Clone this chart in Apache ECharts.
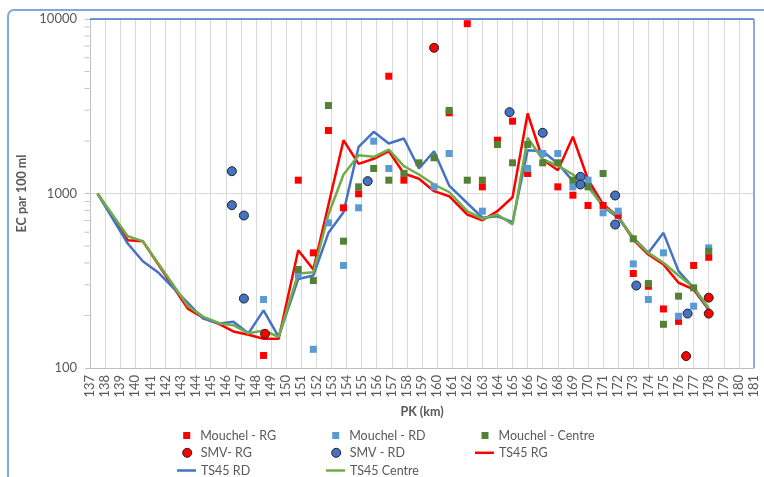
<!DOCTYPE html>
<html><head><meta charset="utf-8">
<script src="https://cdn.jsdelivr.net/npm/echarts@6/dist/echarts.min.js"></script>
<style>html,body{margin:0;padding:0;background:#fff}#c{width:764px;height:477px}</style>
</head><body><div id="c"></div>
<script>
// ---- data (PK km, EC per 100 ml) ----
const pkMin = 137, pkMax = 181;
const yMinorTicks = [200,300,400,500,600,700,800,900,2000,3000,4000,5000,6000,7000,8000,9000];

const ts45RG = [[137.5,1000],[139.5,540],[140.5,533],[143.5,218],[144.5,194],[145.6,178],[146.5,162],[147.5,155],[148.5,147],[149.5,147],
  [150.8,473],[151.8,367],[153.8,2020],[154.8,1479],[155.8,1581],[156.8,1747],[157.8,1302],[158.8,1214],[159.8,1031],[160.8,965],
  [162,758],[163,703],[164,792],[165,952],[166,2874],[167,1566],[168,1360],[169,2114],[170,1203],[171,865],
  [172,738],[173,545],[174,447],[175,392],[176,308],[177,282],[178,216]];
const ts45RD = [[137.5,1000],[139.5,517],[140.5,409],[141.5,354],[144.5,192],[145.6,180],[146.5,184],[147.5,158],[148.5,214],[149.5,151],
  [150.8,324],[151.8,339],[152.8,595],[153.8,781],[154.8,1852],[155.8,2258],[156.8,1934],[157.8,2067],[158.8,1391],[159.8,1747],[160.8,1111],
  [163,726],[164,741],[165,685],[166,1771],[167,1747],[168,1486],[169,1177],[170,1126],[171,839],
  [172,726],[173,557],[174,457],[175,595],[176,359],[177,288],[178,216]];
const ts45Centre = [[137.5,1000],[139.5,569],[140.5,533],[143.5,226],[144.5,197],[145.6,180],[146.5,176],[147.5,158],[148.5,164],[149.5,151],
  [150.8,348],[151.8,354],[152.8,758],[153.8,1285],[154.8,1658],[155.8,1623],[156.8,1787],[157.8,1434],[158.8,1285],[159.8,1126],[160.8,1020],
  [162,792],[163,716],[164,758],[165,664],[166,2085],[167,1566],[168,1447],[169,1285],[170,1092],[171,846],
  [172,741],[173,552],[174,457],[175,401],[176,339],[177,290],[178,221]];

const mouchelRG = [[148.5,118],[150.8,1192],[151.8,457],[152.8,2296],[153.8,828],[154.8,996],[156.8,4700],[157.8,1192],[160.8,2900],
  [162,9400],[163,1092],[164,2020],[165,2597],[166,1302],[168,1092],[169,978],[170,854],[171,854],[172,750],
  [173,348],[174,294],[175,218],[176,185],[177,387],[178,431]];
const mouchelRD = [[148.5,247],[150.8,343],[151.8,128],[152.8,679],[153.8,387],[154.8,828],[155.8,1994],[156.8,1391],[159.8,1092],[160.8,1695],
  [163,792],[166,1391],[167,1695],[168,1695],[169,1092],[170,1192],[171,775],[172,792],[173,395],[174,247],
  [175,457],[176,198],[177,226],[178,488]];
const mouchelCentre = [[150.8,367],[151.8,317],[152.8,3194],[153.8,533],[154.8,1092],[155.8,1391],[156.8,1192],[157.8,1302],[158.8,1499],[159.8,1602],[160.8,2990],
  [162,1192],[163,1192],[164,1909],[165,1499],[166,1909],[167,1499],[168,1499],[169,1192],[170,1092],[171,1302],
  [173,550],[174,305],[175,178],[176,258],[177,288],[178,467]];
const smvRG = [[148.6,157],[159.8,6839],[176.5,117],[178,253],[178,205]];
const smvRD = [[146.4,1342],[146.4,857],[147.2,748],[147.2,250],[155.4,1177],[164.8,2924],[167,2228],[169.5,1246],[169.5,1126],
  [171.8,974],[171.8,664],[173.2,297],[176.6,205]];

const FONT = 'Lato';
const TXT = '#595959';

const chart = echarts.init(document.getElementById('c'), null, {renderer:'canvas'});
const lineSeries = (name, data, color, z) => ({
  name, type:'line', data, symbol:'none', showSymbol:false, z,
  lineStyle:{color, width:2.5}, itemStyle:{color}, animation:false
});
const sqSeries = (name, data, color, z) => ({
  name, type:'scatter', data, symbol:'rect', symbolSize:7, z,
  itemStyle:{color, opacity:1}, animation:false
});
const circSeries = (name, data, color, z) => ({
  name, type:'scatter', data, symbol:'circle', symbolSize:9, z,
  itemStyle:{color, borderColor:'#1f1f1f', borderWidth:1, opacity:1}, animation:false
});

const rowY = [436, 453.3, 471];
const LEG_FS = 12.5;
function legendItem(name, kind, left, cy, color) {
  const base = {selectedMode:false, padding:0, orient:'horizontal', top:cy-7,
    textStyle:{fontFamily:FONT, fontSize:LEG_FS, color:TXT}};
  if (kind === 'sq') return Object.assign(base, {left, itemWidth:7, itemHeight:7,
    data:[{name, icon:'rect', itemStyle:{color, borderWidth:0}}], textStyle:Object.assign(base.textStyle,{padding:[0,0,0,5]})});
  if (kind === 'ci') return Object.assign(base, {left, itemWidth:9, itemHeight:9,
    data:[{name, icon:'circle', itemStyle:{color, borderColor:'#1f1f1f', borderWidth:1}}], textStyle:Object.assign(base.textStyle,{padding:[0,0,0,4]})});
  return Object.assign(base, {left, itemWidth:19, itemHeight:2.5,
    data:[{name, icon:'rect', itemStyle:{color, borderWidth:0}}]});
}

chart.setOption({
  animation:false,
  graphic:[{type:'rect', shape:{x:8, y:10, width:790, height:500, r:6}, style:{fill:'none', stroke:'#7FA9DA', lineWidth:2}, z:-10}],
  grid:{left:90, top:19, width:664, height:349},
  xAxis:{
    type:'value', min:pkMin, max:pkMax, interval:1,
    name:'PK (km)', nameLocation:'middle', nameGap:36,
    nameTextStyle:{fontFamily:FONT, fontSize:12.5, fontWeight:'bold', color:TXT},
    axisLine:{show:true, lineStyle:{color:'#bfbfbf', width:1}},
    axisTick:{show:false},
    axisLabel:{rotate:90, margin:7, fontFamily:FONT, fontSize:13, color:TXT},
    splitLine:{show:true, lineStyle:{color:'#d9d9d9', width:1}}
  },
  yAxis:{
    type:'log', logBase:10, min:100, max:10000,
    name:'EC par 100 ml', nameLocation:'middle', nameGap:41, nameRotate:90,
    nameTextStyle:{fontFamily:FONT, fontSize:12.5, fontWeight:'bold', color:TXT},
    axisLine:{show:true, lineStyle:{color:'#bfbfbf', width:1}},
    axisTick:{show:true, length:5, lineStyle:{color:'#bfbfbf'}},
    axisLabel:{margin:13, fontFamily:FONT, fontSize:13, color:TXT, formatter:v=>String(Math.round(v))},
    splitLine:{show:true, lineStyle:{color:'#d9d9d9', width:1}}
  },
  legend:[
    legendItem('Mouchel - RG', 'sq', 183.2, rowY[0], '#FF0000'),
    legendItem('Mouchel - RD', 'sq', 332.2, rowY[0], '#5B9BD5'),
    legendItem('Mouchel - Centre', 'sq', 481.5, rowY[0], '#548235'),
    legendItem('SMV- RG', 'ci', 182.2, rowY[1], '#FF0000'),
    legendItem('SMV - RD', 'ci', 331.2, rowY[1], '#4472C4'),
    legendItem('TS45 RG', 'ln', 475, rowY[1], '#FF0000'),
    legendItem('TS45 RD', 'ln', 177, rowY[2], '#4472C4'),
    legendItem('TS45 Centre', 'ln', 326, rowY[2], '#70AD47')
  ],
  series:[
    {
      name:'minor', type:'scatter', data:yMinorTicks.map(v=>[pkMin, v]), symbol:'rect', symbolSize:[5,1], symbolOffset:[-3,0],
      itemStyle:{color:'#bfbfbf', opacity:1}, silent:true, clip:false, z:1, animation:false,
      markLine:{silent:true, symbol:['none','none'], label:{show:false}, animation:false,
        data:[{yAxis:10000, lineStyle:{color:'#4472C4', width:1.5, type:'solid'}},
              {xAxis:pkMax, lineStyle:{color:'#8EA9DB', width:2, type:'solid'}}]}
    },
    lineSeries('TS45 RG', ts45RG, '#FF0000', 2),
    lineSeries('TS45 RD', ts45RD, '#4472C4', 3),
    lineSeries('TS45 Centre', ts45Centre, '#70AD47', 4),
    sqSeries('Mouchel - RG', mouchelRG, '#FF0000', 5),
    sqSeries('Mouchel - RD', mouchelRD, '#5B9BD5', 6),
    sqSeries('Mouchel - Centre', mouchelCentre, '#548235', 7),
    circSeries('SMV- RG', smvRG, '#FF0000', 8),
    circSeries('SMV - RD', smvRD, '#4472C4', 9)
  ]
});
</script></body></html>
